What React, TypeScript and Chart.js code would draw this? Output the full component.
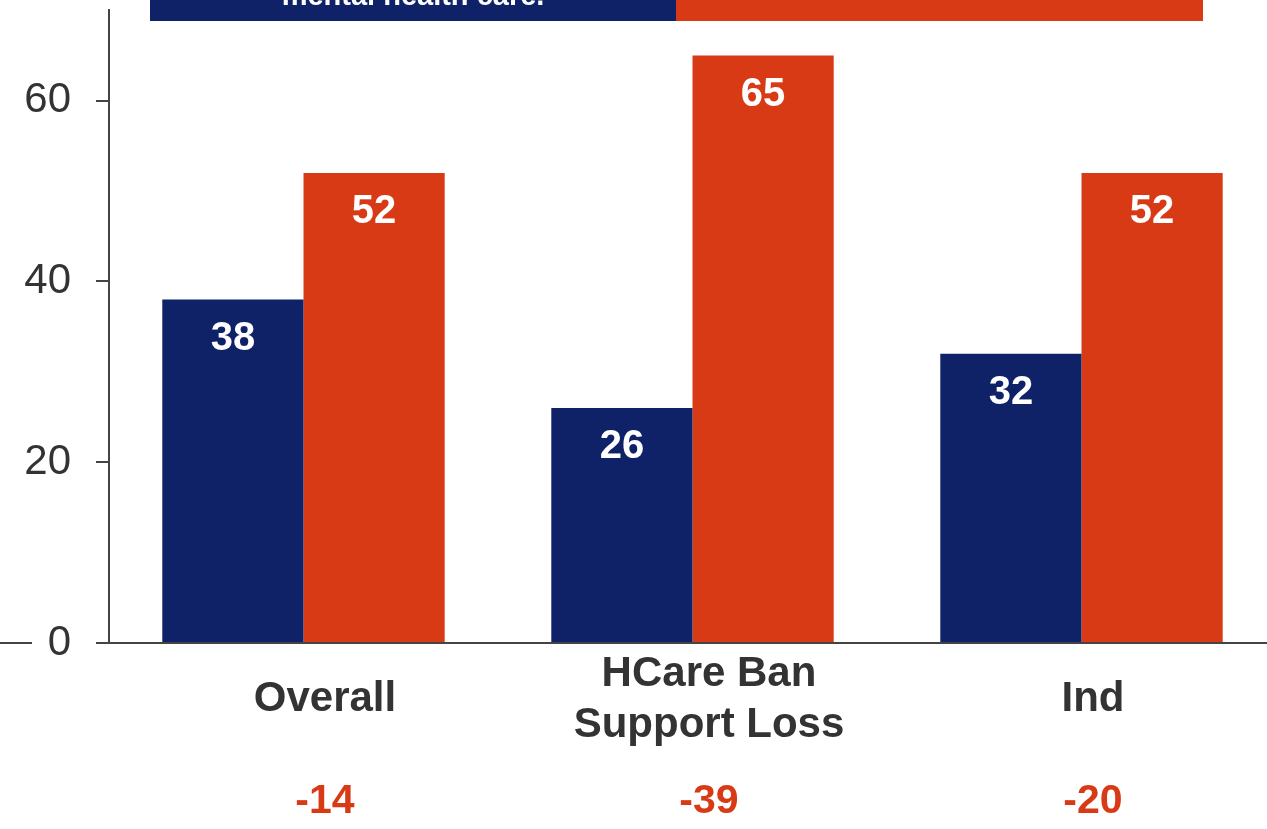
import React, { useEffect, useRef } from "react";
import { Chart, registerables } from "chart.js";

Chart.register(...registerables);

// ---- data ----
const categories: string[][] = [["Overall"], ["HCare Ban", "Support Loss"], ["Ind"]];
const seriesBlue = [38, 26, 32];
const seriesOrange = [52, 65, 52];
const gapLabels = ["-14", "-39", "-20"];
const yTickValues = [0, 20, 40, 60];
const bannerBlueText = ["mental health care."];
const bannerOrangeText: string[] = [];

// ---- style ----
const BLUE = "#0F2167";
const ORANGE = "#D93A16";
const TEXT = "#333333";
const AXIS = "#444444";
const FAMILY = "'Liberation Sans', Arial, Helvetica, sans-serif";

const CANVAS_W = 1300;
const CANVAS_H = 869;
const SHIFT = 40; // canvas is shifted up (the original chart is cropped at the top)

const decorPlugin = {
  id: "decor",
  beforeDraw(chart: any) {
    const ctx = chart.ctx;
    ctx.save();
    const bottom = SHIFT + 21;
    ctx.fillStyle = BLUE;
    ctx.fillRect(150, 0, 526, bottom);
    ctx.fillStyle = ORANGE;
    ctx.fillRect(676, 0, 527, bottom);
    ctx.fillStyle = "#ffffff";
    ctx.font = `bold 29px ${FAMILY}`;
    ctx.textAlign = "center";
    ctx.textBaseline = "alphabetic";
    bannerBlueText.forEach((t, i, arr) => {
      ctx.fillText(t, 413, SHIFT + 5 - (arr.length - 1 - i) * 34);
    });
    bannerOrangeText.forEach((t, i, arr) => {
      ctx.fillText(t, 939, SHIFT + 5 - (arr.length - 1 - i) * 34);
    });
    ctx.restore();
  },
  afterDatasetsDraw(chart: any) {
    const ctx = chart.ctx;
    ctx.save();
    ctx.font = `bold 40px ${FAMILY}`;
    ctx.fillStyle = "#ffffff";
    ctx.textAlign = "center";
    ctx.textBaseline = "middle";
    chart.data.datasets.forEach((ds: any, di: number) => {
      const meta = chart.getDatasetMeta(di);
      meta.data.forEach((bar: any, i: number) => {
        ctx.fillText(String(ds.data[i]), bar.x, bar.y + 39.5);
      });
    });
    ctx.restore();
  },
  afterDraw(chart: any) {
    const ctx = chart.ctx;
    const xl = chart.scales.xl;
    const ys = chart.scales.y;
    ctx.save();
    ctx.font = `bold 41px ${FAMILY}`;
    ctx.fillStyle = ORANGE;
    ctx.textAlign = "center";
    ctx.textBaseline = "middle";
    gapLabels.forEach((g, i) => {
      ctx.fillText(g, xl.getPixelForValue(i), chart.chartArea.bottom + 159);
    });
    const y0 = ys.getPixelForValue(0);
    ctx.strokeStyle = AXIS;
    ctx.lineWidth = 2;
    ctx.beginPath();
    ctx.moveTo(0, y0);
    ctx.lineTo(32, y0);
    ctx.stroke();
    ctx.restore();
  },
};

function BarChart() {
  const ref = useRef<HTMLCanvasElement | null>(null);
  useEffect(() => {
    if (!ref.current) return;
    const chart = new Chart(ref.current, {
      type: "bar",
      data: {
        labels: categories.map((c) => c.join(" ")),
        datasets: [
          { label: "Blue", data: seriesBlue, backgroundColor: BLUE, borderWidth: 0 },
          { label: "Orange", data: seriesOrange, backgroundColor: ORANGE, borderWidth: 0 },
        ],
      },
      options: {
        responsive: false,
        animation: false,
        layout: { padding: { top: SHIFT + 10, right: 24, left: 0, bottom: 0 } },
        datasets: { bar: { categoryPercentage: 0.726, barPercentage: 1 } },
        plugins: { legend: { display: false }, tooltip: { enabled: false }, title: { display: false } },
        scales: {
          x: {
            offset: true,
            z: 1,
            grid: { display: true, drawOnChartArea: false, drawTicks: false },
            border: { display: true, color: AXIS, width: 2 },
            ticks: { display: false },
            afterFit(s: any) {
              s.height = 0;
            },
          },
          xl: {
            type: "linear",
            position: "bottom",
            offset: false,
            min: -0.5625,
            max: 2.4766,
            grid: { display: false, drawTicks: false, offset: false },
            border: { display: false },
            afterBuildTicks(s: any) {
              s.ticks = categories.map((_, i) => ({ value: i }));
            },
            ticks: {
              color: TEXT,
              font: { family: FAMILY, size: 42, weight: "bold", lineHeight: 1.22 },
              padding: 31,
              crossAlign: "center",
              maxRotation: 0,
              autoSkip: false,
              callback: (_v: any, i: number) => categories[i],
            },
            afterFit(s: any) {
              s.height = 186;
            },
          },
          y: {
            min: 0,
            max: 70,
            ticks: {
              stepSize: 20,
              includeBounds: false,
              color: TEXT,
              font: { family: FAMILY, size: 42 },
              padding: 25,
            },
            afterBuildTicks(s: any) {
              s.ticks = yTickValues.map((v) => ({ value: v }));
            },
            grid: { drawOnChartArea: false, drawTicks: true, tickLength: 13, color: AXIS, lineWidth: 2 },
            border: { display: true, color: AXIS, width: 2 },
            afterFit(s: any) {
              s.width = 109;
            },
          },
        },
      } as any,
      plugins: [decorPlugin],
    });
    return () => chart.destroy();
  }, []);
  return (
    <canvas
      ref={ref}
      width={CANVAS_W}
      height={CANVAS_H}
      style={{ position: "absolute", left: 0, top: -SHIFT, width: CANVAS_W, height: CANVAS_H }}
    />
  );
}

export default function App() {
  return (
    <div
      style={{
        position: "fixed",
        left: 0,
        top: 0,
        width: 1267,
        height: 829,
        overflow: "hidden",
        background: "#ffffff",
      }}
    >
      <BarChart />
    </div>
  );
}
